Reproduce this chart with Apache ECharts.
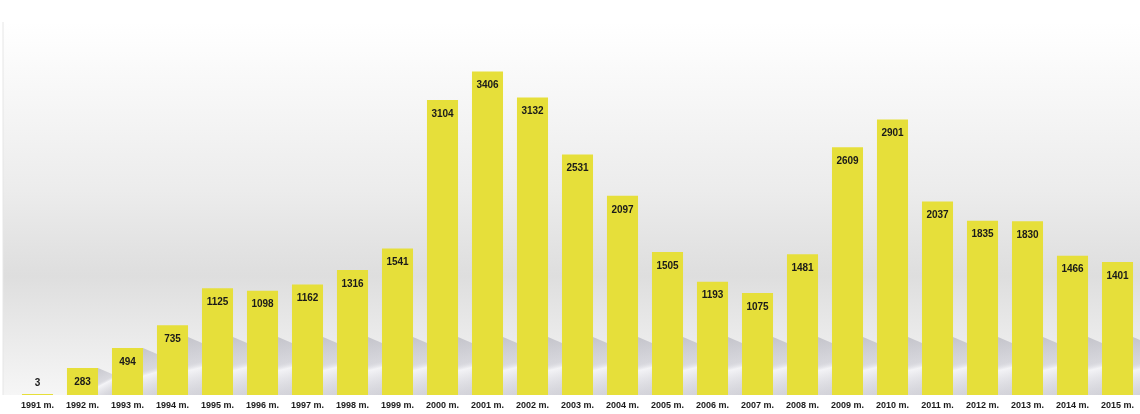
<!DOCTYPE html>
<html>
<head>
<meta charset="utf-8">
<script src="https://cdn.jsdelivr.net/npm/echarts@6/dist/echarts.min.js"></script>
<style>html,body{margin:0;padding:0;background:#fff;}#c{width:1140px;height:414px;}</style>
</head>
<body>
<div id="c"></div>
<script>
const years = ['1991 m.','1992 m.','1993 m.','1994 m.','1995 m.','1996 m.','1997 m.','1998 m.','1999 m.','2000 m.','2001 m.','2002 m.','2003 m.','2004 m.','2005 m.','2006 m.','2007 m.','2008 m.','2009 m.','2010 m.','2011 m.','2012 m.','2013 m.','2014 m.','2015 m.'];
const values = [3,283,494,735,1125,1098,1162,1316,1541,3104,3406,3132,2531,2097,1505,1193,1075,1481,2609,2901,2037,1835,1830,1466,1401];

const chart = echarts.init(document.getElementById('c'), null, {renderer:'canvas'});
const barData = values.map(v => v < 50
  ? {value: v, label: {position: 'top', distance: 6}}
  : v);

chart.setOption({
  animation: false,
  graphic: [{
    type: 'rect', z: -10, silent: true,
    shape: {x: 3, y: 22, width: 1137, height: 373},
    style: {
      fill: new echarts.graphic.LinearGradient(0, 0, 0, 1, [
        {offset: 0, color: '#ffffff'},
        {offset: 0.1, color: '#fbfbfb'},
        {offset: 0.45, color: '#ececec'},
        {offset: 0.68, color: '#dedede'},
        {offset: 1, color: '#f6f6f6'}
      ])
    }
  }, {
    type: 'line', z: -9, silent: true,
    shape: {x1: 3, y1: 22, x2: 3, y2: 395},
    style: {stroke: '#e6e6e6', lineWidth: 1}
  }],
  grid: {left: 15, right: 0, top: 15, bottom: 19},
  xAxis: {
    type: 'category', data: years,
    axisLine: {show: false}, axisTick: {show: false},
    axisLabel: {interval: 0, margin: 6, fontSize: 9, fontWeight: 'bold', color: '#1a1a1a', fontFamily: 'Liberation Sans'}
  },
  yAxis: {type: 'value', min: 0, max: 4000, show: false, splitLine: {show: false}},
  series: [{
    type: 'custom', z: 1, silent: true,
    renderItem: function (params, api) {
      const idx = api.value(0);
      const base = api.coord([idx, 0]);
      const top = api.coord([idx, api.value(1)]);
      const band = api.size([1, 0])[0];
      const bw = band * 0.69;
      const x0 = base[0] + bw / 2;
      const h = Math.min(base[1] - top[1], 58);
      if (h < 3) return;
      const w = 14;
      return {
        type: 'polygon',
        shape: {points: [[x0, base[1]], [x0 + w, base[1]], [x0 + w, base[1] - h + 6], [x0, base[1] - h]]},
        style: {
          fill: new echarts.graphic.LinearGradient(0, 0, 1, 1, [
            {offset: 0, color: 'rgba(150,150,165,0.45)'},
            {offset: 0.45, color: 'rgba(175,175,190,0.38)'},
            {offset: 0.55, color: 'rgba(245,245,250,0.6)'},
            {offset: 1, color: 'rgba(160,160,175,0.42)'}
          ])
        }
      };
    },
    data: values.map((v, i) => [i, v])
  }, {
    type: 'bar', z: 2,
    data: barData,
    barWidth: '69%',
    barMinHeight: 1,
    itemStyle: {color: '#e6df3a'},
    label: {
      show: true, position: 'insideTop', distance: 9,
      fontSize: 10, fontWeight: 'bold', color: '#1a1a1a', fontFamily: 'Liberation Sans'
    }
  }]
});
</script>
</body>
</html>
